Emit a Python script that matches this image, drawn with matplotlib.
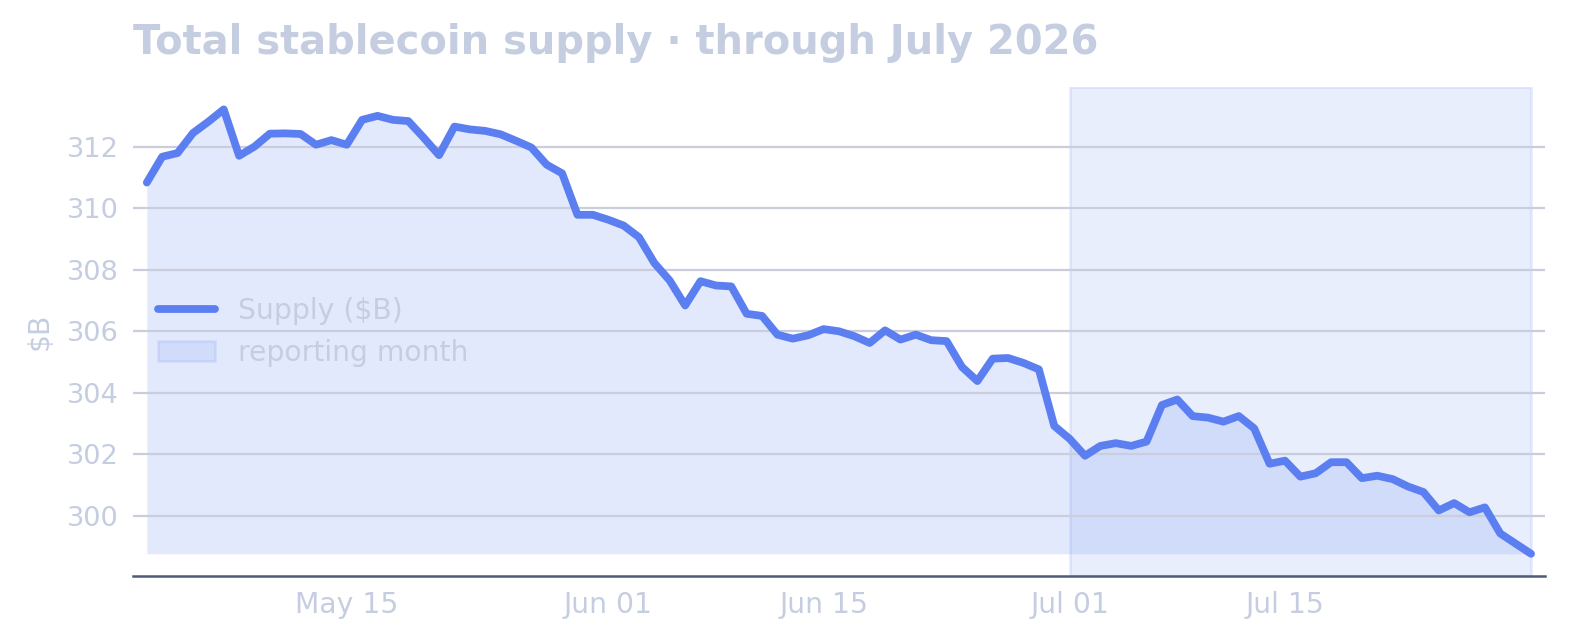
import numpy as np
import pandas as pd
import matplotlib
matplotlib.use("Agg")
import matplotlib.pyplot as plt
import matplotlib.dates as mdates

# daily supply, $B
start_date = "2026-05-02"
end_date = "2026-07-31"
supply = [
    310.84, 311.68, 311.80, 312.45, 312.82, 313.22, 311.71, 312.01, 312.43, 312.44,
    312.42, 312.07, 312.22, 312.07, 312.88, 313.01, 312.88, 312.84, 312.30, 311.73,
    312.66, 312.57, 312.52, 312.41, 312.20, 311.98, 311.42, 311.14, 309.79, 309.79,
    309.63, 309.44, 309.06, 308.22, 307.65, 306.84, 307.63, 307.49, 307.46, 306.57,
    306.50, 305.89, 305.76, 305.87, 306.07, 306.00, 305.84, 305.62, 306.03, 305.73,
    305.89, 305.71, 305.68, 304.84, 304.38, 305.11, 305.13, 304.97, 304.76, 302.92,
    302.50, 301.95, 302.27, 302.36, 302.27, 302.41, 303.60, 303.78, 303.24, 303.19,
    303.06, 303.24, 302.84, 301.69, 301.79, 301.27, 301.38, 301.74, 301.74, 301.22,
    301.30, 301.19, 300.95, 300.77, 300.17, 300.41, 300.11, 300.27, 299.42, 299.09,
    298.76,
]
span_start = "2026-07-01"
span_end = "2026-07-31"

title = "Total stablecoin supply \u00b7 through July 2026"
ylabel = "$B"
line_label = "Supply ($B)"
span_label = "reporting month"

blue = "#5b7ff0"
text_col = "#c5cde1"
grid_col = "#c9cddc"
spine_col = "#4d5b78"

dates = pd.date_range(start_date, end_date, freq="D")
y = np.array(supply)

fig = plt.figure(figsize=(7.85, 3.205), dpi=200)
ax = fig.add_axes([0.0847, 0.1014, 0.8993, 0.7626])

ax.fill_between(dates, y, y.min(), color=blue, alpha=0.17, linewidth=0)
ax.plot(dates, y, color=blue, lw=2.8, solid_capstyle="round",
        solid_joinstyle="round", label=line_label, zorder=3)
ax.axvspan(pd.Timestamp(span_start), pd.Timestamp(span_end),
           facecolor=blue, edgecolor=blue, alpha=0.13, lw=1.0, label=span_label)

ax.margins(x=0.01)
ax.grid(axis="y", color=grid_col, lw=0.8)
ax.grid(axis="x", visible=False)
for s in ["top", "right", "left"]:
    ax.spines[s].set_visible(False)
ax.spines["bottom"].set_color(spine_col)
ax.spines["bottom"].set_linewidth(0.9)

ax.xaxis.set_major_locator(mdates.DayLocator(bymonthday=[1, 15]))
ax.xaxis.set_major_formatter(mdates.DateFormatter("%b %d"))
ax.tick_params(axis="both", length=0, labelsize=10.2, colors=text_col)
ax.tick_params(axis="x", pad=5.5)
ax.tick_params(axis="y", pad=5.0, labelsize=9.8)

ax.set_ylabel(ylabel, color=text_col, fontsize=10.2, labelpad=5)
ax.set_title(title, loc="left", fontsize=14.4, fontweight="bold",
             color=text_col, pad=12)

leg = ax.legend(loc="center left", frameon=False, fontsize=10.2,
                handlelength=2.0, labelcolor=text_col)

fig.savefig("out.png", dpi=200)
